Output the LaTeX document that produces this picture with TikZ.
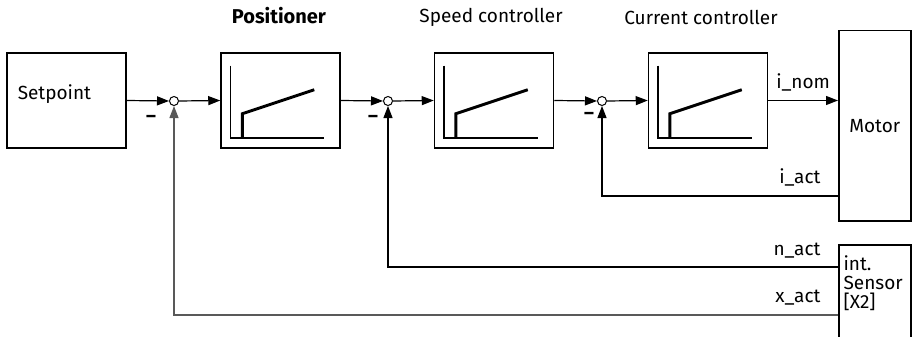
\documentclass[tikz,border=0pt]{standalone}
\usepackage{fontspec}
\setmainfont{Fira Sans}
\usetikzlibrary{arrows.meta,positioning,calc}

\tikzset{
  block/.style={draw,line width=1.5pt,minimum width=119pt,minimum height=95pt,inner sep=0pt},
  sumpt/.style={draw,line width=1pt,circle,minimum size=9pt,inner sep=0pt},
  sig/.style={-{Triangle[length=12pt,width=9pt]},line width=1.2pt},
  graphln/.style={line width=3pt},
  axisln/.style={line width=1.5pt},
  minus/.style={font=\fontsize{19}{24}\selectfont\bfseries}
}

\begin{document}
\begin{tikzpicture}[x=1pt,y=-1pt,font=\fontsize{19}{19}\selectfont]
  \clip (0,0) rectangle (919,337);
  %% Setpoint and summing points
  \node[block,label={[anchor=west,xshift=8pt,yshift=6pt]west:Setpoint}] (setp) at (66.5,100.5) {};
  \node[sumpt] (sum1) at (174,101) {};
  \node[sumpt] (sum2) at (388,101) {};
  \node[sumpt] (sum3) at (602,101) {};
  \node[minus] at (151,119) {--};
  \node[minus] at (373,119) {--};
  \node[minus] at (589,116) {--};
  %% Controller row
  \foreach \x/\n in {280.5/pos,494/spd,708/cur}{
    \node[block] (\n) at (\x,100.5) {};
    \begin{scope}[shift={(\n.south west)}]
      \draw[axisln] (10,-83) -- (10,-11) -- (104,-11);
      \draw[graphln] (22,-11) -- (22,-35) -- (94,-59);
    \end{scope}
  }
  \node[font=\fontsize{20}{24}\selectfont\bfseries] (posT) at (279,16) {Positioner};
  \node (spdT) at (491,17) {Speed controller};
  \node (curT) at (701,17) {Current controller};
  %% Motor and sensor
  \node[draw,line width=1.5pt,minimum width=72pt,minimum height=190pt,anchor=north west] (motor) at (838,30) {Motor};
  \node[draw,line width=1.5pt,minimum width=72pt,minimum height=110pt,anchor=north west,
        label={[anchor=north west,align=left,xshift=2pt,yshift=-8pt]north west:int.\\Sensor\\{[X2]}}] (sensor) at (838,244) {};
  %% Forward path
  \draw[sig] (setp.east) -- (sum1.west);
  \draw[sig] (sum1.east) -- (pos.west);
  \draw[sig] (pos.east) -- (sum2.west);
  \draw[sig] (sum2.east) -- (spd.west);
  \draw[sig] (spd.east) -- (sum3.west);
  \draw[sig] (sum3.east) -- (cur.west);
  \draw[sig] (cur.east) -- (cur.east -| motor.west) node[midway,above=5pt] (inom) {i\_nom};
  %% Feedback paths
  \coordinate (iact) at (838,196);
  \coordinate (nact) at (838,267);
  \coordinate (xact) at (838,315);
  \draw[sig] (iact) -| (sum3.south);
  \draw[sig] (nact) -| (sum2.south);
  \draw[sig,black!65] (xact) -| (sum1.south);
  \node[anchor=east] (iactT) at (824,177) {i\_act};
  \node[anchor=east] (nactT) at (824,251) {n\_act};
  \node[anchor=east] (xactT) at (824,298) {x\_act};
\end{tikzpicture}
\end{document}
